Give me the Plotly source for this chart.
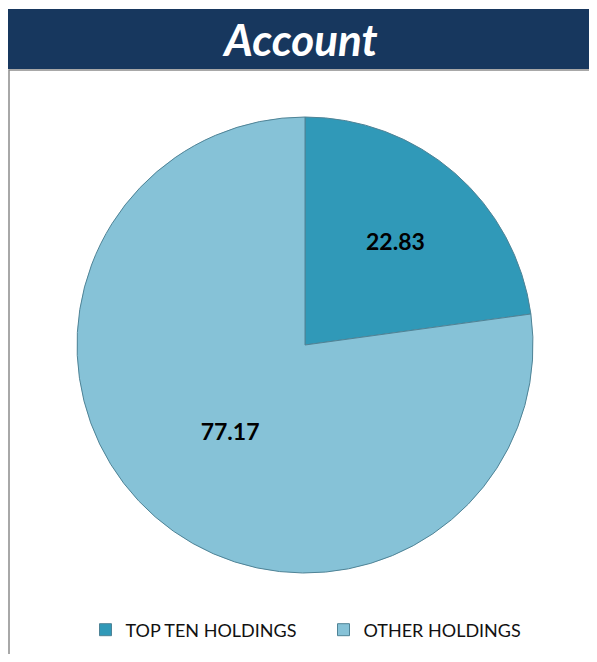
import plotly.graph_objects as go

# data
labels = ['TOP TEN HOLDINGS', 'OTHER HOLDINGS']
values = [22.83, 77.17]
colors = ['#3099b8', '#86c2d7']

# page body has an 8px margin, so the figure is laid out 8px in from the window edge
W, H = 581, 646

fig = go.Figure()

fig.add_trace(go.Pie(
    labels=labels,
    values=values,
    sort=False,
    direction='clockwise',
    rotation=0,
    textinfo='value',
    texttemplate='%{value:.2f}',
    textposition='inside',
    insidetextorientation='horizontal',
    textfont=dict(family='Lato', size=23, color='#000000', weight='bold'),
    marker=dict(colors=colors, line=dict(color='#4f8396', width=1)),
    domain=dict(x=[69 / W, 525 / W], y=[1 - 565 / H, 1 - 109 / H]),
    hoverinfo='label+value',
))

# chart frame (left/top edge) and title bar
fig.add_shape(type='rect', xref='paper', yref='paper',
              x0=1 / W, x1=1.05, y0=1 - 62 / H, y1=-0.05,
              line=dict(color='#8c8c8c', width=1.5), fillcolor='rgba(0,0,0,0)', layer='below')
fig.add_shape(type='rect', xref='paper', yref='paper',
              x0=0, x1=1.05, y0=1 - 61 / H, y1=1 - 1 / H,
              line=dict(width=0), fillcolor='#17375e', layer='below')

fig.update_layout(
    width=W, height=H,
    margin=dict(l=0, r=0, t=0, b=0),
    paper_bgcolor='white',
    plot_bgcolor='white',
    title=dict(text='Account', x=293 / W, xanchor='center', xref='paper',
               y=1 - 33 / H, yanchor='middle', yref='container',
               font=dict(family='Lato', size=44, color='white', weight='bold', style='italic')),
    showlegend=True,
    legend=dict(orientation='h', x=0.5 + 25 / W, xanchor='center', y=1 - 622 / H, yanchor='middle',
                font=dict(family='Lato', size=18, color='#111111'),
                entrywidth=193, traceorder='normal'),
)

fig.write_html("out.html")
